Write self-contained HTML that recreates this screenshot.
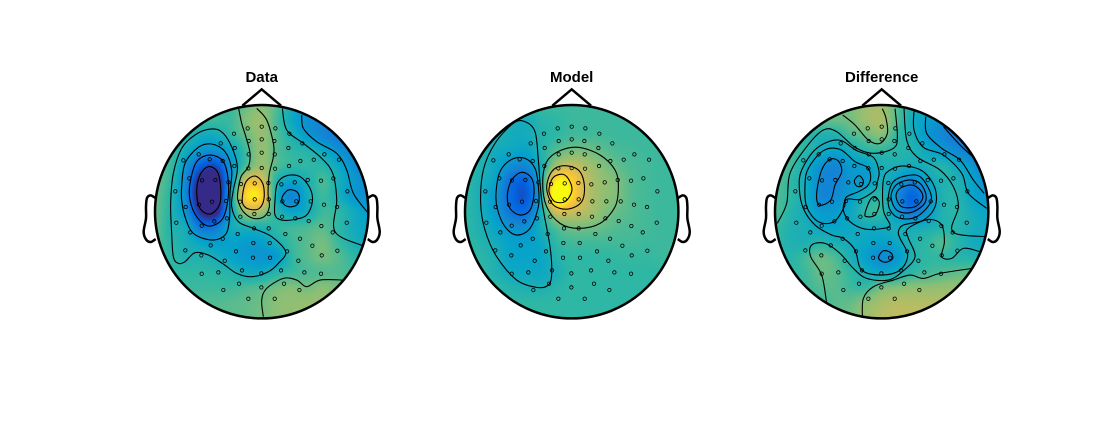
<!DOCTYPE html>
<html lang="en">
<head>
<meta charset="utf-8">
<title>Topoplots: Data, Model, Difference</title>
<style>
html,body{margin:0;padding:0;background:#fff;width:1104px;height:426px;overflow:hidden}
#chart{position:relative;width:1104px;height:426px}
canvas{position:absolute;display:block}
svg{position:absolute;left:0;top:0}
text{font-family:"Liberation Sans",Arial,sans-serif;font-weight:bold;font-size:15px;fill:#000}
</style>
</head>
<body>
<div id="chart"></div>
<script>
// Channel locations, head units: centre (365,455), radius 320
const electrodes=[[323,205],[365,200],[406,205],[448,221],[282,221],[326,243],[365,238],[403,243],[487,250],[242,250],[284,264],[445,264],[365,278],[326,283],[404,283],[553,283],[176,283],[130,301],[209,298],[248,303],[481,303],[521,299],[597,299],[283,318],[325,325],[365,324],[405,326],[447,318],[148,355],[186,361],[226,360],[503,360],[543,362],[580,355],[265,367],[303,372],[344,370],[385,369],[424,373],[464,367],[106,394],[622,394],[177,434],[216,425],[258,423],[300,425],[344,418],[386,418],[427,424],[469,424],[512,424],[552,434],[137,441],[591,441],[301,470],[261,475],[343,462],[386,462],[426,470],[466,475],[109,488],[223,484],[185,497],[506,483],[544,498],[620,488],[342,505],[386,505],[293,522],[151,517],[436,522],[578,517],[248,536],[480,536],[212,556],[340,549],[389,549],[517,557],[136,571],[288,574],[441,574],[592,572],[184,586],[339,593],[390,593],[545,586],[254,602],[475,602],[306,631],[423,631],[235,637],[185,641],[364,640],[493,637],[543,641],[297,671],[432,671],[250,690],[364,682],[478,690],[325,716],[404,716]];

const panelTitles=["Data","Model","Difference"];

// Field values on a 15x15 grid spanning the head square (0 = bottom of colour scale, 1 = top)
const dataField=[
[.50,.50,.50,.52,.52,.52,.58,.62,.55,.42,.33,.28,.25,.22,.20],
[.52,.52,.52,.52,.52,.52,.62,.66,.53,.40,.30,.27,.24,.22,.20],
[.54,.54,.48,.42,.42,.50,.58,.65,.55,.45,.34,.27,.22,.20,.20],
[.56,.54,.42,.33,.31,.38,.53,.65,.55,.50,.47,.40,.32,.25,.20],
[.56,.52,.33,.12,.07,.33,.55,.66,.55,.50,.50,.48,.40,.30,.22],
[.58,.50,.28,-.05,-.08,.33,.78,.78,.46,.38,.44,.54,.44,.34,.28],
[.58,.48,.28,-.12,-.12,.40,.92,.90,.42,.26,.42,.52,.44,.33,.30],
[.58,.47,.32,.00,-.04,.38,.68,.66,.48,.38,.42,.52,.50,.42,.35],
[.58,.47,.42,.20,.22,.42,.45,.46,.50,.52,.54,.56,.50,.42,.38],
[.55,.49,.44,.38,.35,.37,.35,.36,.44,.52,.56,.60,.52,.45,.40],
[.52,.50,.46,.46,.43,.38,.34,.32,.34,.50,.56,.60,.56,.50,.47],
[.50,.50,.50,.50,.49,.47,.42,.42,.48,.52,.54,.55,.55,.53,.50],
[.52,.52,.52,.52,.52,.52,.54,.56,.60,.62,.60,.63,.60,.58,.55],
[.55,.55,.55,.55,.55,.56,.57,.59,.63,.64,.65,.65,.62,.60,.58],
[.55,.55,.55,.56,.56,.56,.57,.60,.63,.65,.65,.65,.63,.60,.58]
];
const modelField=[
[.52,.52,.52,.52,.52,.52,.52,.52,.52,.52,.52,.52,.52,.52,.52],
[.50,.50,.50,.45,.43,.48,.50,.52,.52,.52,.52,.52,.52,.52,.52],
[.50,.50,.47,.42,.42,.47,.50,.53,.53,.53,.52,.52,.52,.52,.52],
[.50,.48,.42,.40,.38,.47,.56,.60,.60,.57,.54,.53,.52,.52,.52],
[.50,.46,.40,.30,.28,.43,.68,.74,.68,.62,.57,.54,.53,.52,.52],
[.50,.44,.37,.18,.14,.44,.98,.90,.72,.65,.61,.55,.53,.52,.52],
[.50,.43,.33,.16,.10,.42,1.15,.92,.72,.65,.61,.55,.53,.52,.52],
[.50,.44,.34,.20,.17,.43,.76,.74,.70,.63,.58,.55,.53,.52,.52],
[.50,.45,.38,.31,.30,.44,.56,.60,.60,.58,.55,.54,.53,.52,.52],
[.50,.47,.42,.37,.36,.40,.50,.53,.53,.53,.53,.53,.52,.52,.52],
[.50,.49,.45,.38,.38,.39,.47,.50,.50,.50,.51,.51,.51,.52,.52],
[.50,.50,.46,.41,.40,.40,.44,.50,.50,.50,.50,.50,.50,.50,.50],
[.50,.50,.50,.47,.45,.45,.48,.50,.50,.50,.50,.50,.50,.50,.50],
[.50,.50,.50,.50,.50,.50,.50,.50,.50,.50,.50,.50,.50,.50,.50],
[.50,.50,.50,.50,.50,.50,.50,.50,.50,.50,.50,.50,.50,.50,.50]
];
const differenceField=[
[.60,.60,.60,.60,.60,.60,.66,.66,.55,.46,.40,.33,.28,.25,.22],
[.58,.58,.58,.58,.58,.60,.66,.68,.55,.42,.36,.30,.26,.22,.20],
[.55,.55,.50,.46,.46,.54,.58,.62,.50,.44,.33,.27,.22,.20,.18],
[.55,.54,.49,.42,.38,.42,.49,.50,.48,.46,.40,.34,.28,.23,.20],
[.55,.53,.43,.31,.27,.35,.36,.44,.44,.42,.44,.47,.40,.32,.24],
[.56,.50,.42,.28,.27,.33,.35,.44,.36,.26,.38,.46,.45,.37,.30],
[.55,.50,.42,.27,.29,.36,.45,.48,.30,.13,.30,.46,.47,.38,.32],
[.55,.48,.42,.34,.35,.40,.50,.50,.33,.20,.33,.46,.48,.42,.38],
[.52,.46,.44,.39,.38,.40,.42,.42,.43,.42,.44,.47,.47,.43,.40],
[.50,.46,.45,.48,.44,.42,.39,.37,.40,.46,.50,.55,.48,.42,.40],
[.50,.48,.53,.58,.54,.44,.36,.28,.33,.46,.50,.50,.48,.47,.46],
[.50,.50,.52,.58,.56,.50,.43,.40,.43,.50,.53,.55,.57,.57,.55],
[.54,.54,.52,.55,.56,.52,.52,.60,.62,.64,.64,.65,.65,.62,.60],
[.55,.55,.52,.53,.56,.58,.64,.68,.70,.70,.70,.70,.68,.65,.62],
[.55,.55,.55,.55,.58,.60,.66,.70,.72,.72,.72,.72,.70,.68,.65]
];

// Isolines, head units
const dataClosedContours=[
[[115,610],[100,590],[95,520],[92,430],[100,340],[125,265],[165,225],[205,208],[240,212],[270,250],[292,320],[280,390],[275,440],[295,485],[340,505],[395,530],[437,575],[415,610],[385,635],[335,650],[290,640],[250,612],[205,585],[165,578],[135,605]],
[[125,380],[135,310],[175,262],[215,252],[255,275],[275,330],[270,400],[268,480],[255,525],[215,540],[160,520],[135,470],[125,420]],
[[150,370],[170,305],[210,285],[250,305],[265,365],[262,430],[245,480],[205,498],[170,470],[150,420]],
[[170,395],[180,345],[205,320],[232,335],[242,385],[238,435],[210,462],[180,445]],
[[307,410],[318,365],[345,348],[368,370],[372,415],[358,445],[330,448],[310,435]],
[[405,420],[412,370],[440,347],[480,350],[510,385],[517,425],[500,465],[465,478],[425,480],[405,465]],
[[427,410],[445,390],[470,395],[478,415],[470,435],[445,440],[428,428]]
];
const dataOpenContours=[
[[296,146],[305,190],[318,232],[330,280],[325,320],[303,350],[293,400],[295,425],[310,455],[340,475],[372,470],[388,440],[384,400],[388,340],[400,290],[400,250],[380,180],[350,145]],
[[427,146],[440,210],[490,250],[545,295],[578,340],[590,420],[585,515],[668,557]],
[[485,165],[490,205],[530,245],[590,280],[620,330],[640,400],[685,460]],
[[370,770],[365,720],[380,685],[430,655],[470,660],[500,680],[540,660],[610,660]]
];
const modelClosedContours=[
[[92,430],[100,330],[135,250],[190,190],[225,185],[255,215],[265,300],[275,420],[300,560],[305,640],[295,675],[260,682],[200,660],[140,590],[105,510]],
[[138,400],[150,335],[185,298],[225,295],[255,325],[265,380],[265,440],[240,505],[200,525],[165,500],[143,450]],
[[172,405],[185,360],[215,337],[245,355],[252,400],[240,450],[210,465],[180,445]],
[[278,370],[290,305],[330,272],[385,262],[450,285],[495,330],[505,380],[495,440],[450,490],[385,505],[330,490],[290,440]],
[[290,385],[305,335],[340,317],[385,330],[403,375],[395,425],[355,447],[310,435]],
[[297,385],[310,352],[340,343],[360,365],[365,395],[345,425],[315,425],[300,405]]
];
const modelOpenContours=[];
const differenceClosedContours=[
[[118,385],[125,330],[170,265],[235,240],[290,272],[340,292],[357,335],[352,365],[345,390],[300,418],[260,418],[250,450],[270,485],[315,507],[370,505],[390,495],[370,450],[370,360],[390,330],[435,318],[490,335],[525,385],[525,440],[490,480],[430,495],[415,515],[420,535],[443,585],[420,630],[365,645],[305,630],[285,570],[250,535],[215,525],[165,495],[130,445]],
[[135,375],[145,325],[190,272],[240,268],[285,305],[322,322],[332,352],[322,378],[295,395],[258,412],[253,440],[222,485],[175,485],[140,440]],
[[170,400],[185,330],[210,298],[235,303],[245,335],[225,375],[212,420],[178,435]],
[[283,362],[297,347],[310,362],[305,378],[290,378]],
[[315,460],[330,420],[345,410],[358,430],[345,465],[320,470]],
[[385,410],[400,365],[440,347],[480,350],[510,395],[510,430],[470,470],[420,475],[390,450]],
[[393,410],[408,375],[445,360],[480,370],[498,405],[490,435],[450,458],[410,450]],
[[408,410],[420,385],[455,375],[480,390],[488,415],[465,440],[425,440]],
[[356,590],[370,572],[392,578],[398,595],[380,606],[362,602]]
];
const differenceOpenContours=[
[[248,165],[285,195],[325,240],[360,250],[382,220],[378,175],[367,146]],
[[405,146],[412,230],[400,265],[340,280],[285,262],[230,215],[190,210],[140,260],[90,340],[80,430],[52,490]],
[[432,146],[440,240],[470,290],[540,330],[580,380],[595,440],[578,515],[675,530]],
[[462,150],[462,210],[490,262],[550,285],[605,340],[625,400],[680,445]],
[[497,170],[500,220],[545,265],[600,300],[640,360],[672,400]],
[[550,200],[600,255],[640,292]],
[[660,575],[610,565],[575,595],[545,590],[553,545],[545,495],[510,478],[470,490],[440,510],[445,535],[465,590],[430,632],[385,660],[320,655],[280,625],[240,580],[195,550],[155,555],[152,590],[185,645],[200,730]],
[[307,770],[310,715],[340,680],[400,660],[450,645],[490,655],[540,640],[637,625]]
];

const panelFields=[dataField,modelField,differenceField];
const panelClosed=[dataClosedContours,modelClosedContours,differenceClosedContours];
const panelOpen=[dataOpenContours,modelOpenContours,differenceOpenContours];

// Layout
const firstCx=261.7,panelStep=310,headCy=211.7,headR=106.7,unitCx=365,unitCy=455,unitR=320;
const NS="http://www.w3.org/2000/svg";
const parulaStops=[[53,42,135],[3,99,225],[20,129,214],[6,164,202],[46,183,164],[135,191,119],[209,187,89],[254,200,50],[249,251,14]];

function colourOf(v){
  const t=Math.max(0,Math.min(.9999,v))*(parulaStops.length-1);
  const i=Math.floor(t),f=t-i,a=parulaStops[i],b=parulaStops[i+1];
  return [a[0]+(b[0]-a[0])*f,a[1]+(b[1]-a[1])*f,a[2]+(b[2]-a[2])*f];
}
function cubic(p0,p1,p2,p3,t){
  return p1+.5*t*(p2-p0+t*(2*p0-5*p1+4*p2-p3+t*(3*(p1-p2)+p3-p0)));
}
function sampleField(g,gx,gy){
  const n=g.length-1;
  const ix=Math.max(0,Math.min(n-1,Math.floor(gx))),iy=Math.max(0,Math.min(n-1,Math.floor(gy)));
  const fx=gx-ix,fy=gy-iy,rows=[];
  for(let j=-1;j<=2;j++){
    const r=g[Math.max(0,Math.min(n,iy+j))];
    const c=k=>r[Math.max(0,Math.min(n,ix+k))];
    rows.push(cubic(c(-1),c(0),c(1),c(2),fx));
  }
  const v=cubic(rows[0],rows[1],rows[2],rows[3],fy);
  const lo=Math.min(g[iy][ix],g[iy][ix+1],g[iy+1][ix],g[iy+1][ix+1])-.1;
  const hi=Math.max(g[iy][ix],g[iy][ix+1],g[iy+1][ix],g[iy+1][ix+1])+.1;
  return Math.max(lo,Math.min(hi,v));
}
function blurPass(src,size,step,other,rad){
  const out=new Float32Array(src.length);
  for(let a=0;a<size;a++){
    for(let b=0;b<size;b++){
      let sum=0;
      for(let k=-rad;k<=rad;k++){
        const q=Math.max(0,Math.min(size-1,b+k));
        sum+=src[a*other+q*step];
      }
      out[a*other+b*step]=sum/(2*rad+1);
    }
  }
  return out;
}
function axisX(u,cx){return cx+(u-unitCx)/unitR*headR;}
function axisY(u){return headCy+(u-unitCy)/unitR*headR;}
function smoothPath(pts,cx,closed){
  const P=pts.map(p=>[axisX(p[0],cx),axisY(p[1])]),n=P.length;
  const at=i=>closed?P[(i+n)%n]:P[Math.max(0,Math.min(n-1,i))];
  let d="M"+P[0][0].toFixed(2)+" "+P[0][1].toFixed(2);
  const segs=closed?n:n-1;
  for(let i=0;i<segs;i++){
    const a=at(i-1),b=at(i),c=at(i+1),e=at(i+2);
    d+="C"+(b[0]+(c[0]-a[0])/6).toFixed(2)+" "+(b[1]+(c[1]-a[1])/6).toFixed(2)+" "+
           (c[0]-(e[0]-b[0])/6).toFixed(2)+" "+(c[1]-(e[1]-b[1])/6).toFixed(2)+" "+
           c[0].toFixed(2)+" "+c[1].toFixed(2);
  }
  return d+(closed?"Z":"");
}
function polyPath(pts,cx){
  return pts.map(function(q,i){return (i?"L":"M")+axisX(q[0],cx).toFixed(2)+" "+axisY(q[1]).toFixed(2);}).join("");
}
function svgEl(tag,parent){
  const el=document.createElementNS(NS,tag);
  parent.appendChild(el);
  return el;
}

const chart=document.getElementById("chart");
const svg=document.createElementNS(NS,"svg");
svg.setAttribute("width","1104");
svg.setAttribute("height","426");



panelTitles.forEach(function(title,p){
  const cx=firstCx+p*panelStep,field=panelFields[p];
  const slug=title.toLowerCase();

  // heatmap: sample grid, soften, then colour inside the head
  const size=Math.ceil(headR*2)+2,left=Math.floor(cx-headR)-1,top=Math.floor(headCy-headR)-1;
  const cv=document.createElement("canvas");
  cv.width=size;cv.height=size;
  cv.style.left=left+"px";cv.style.top=top+"px";
  
  
  const ctx=cv.getContext("2d"),img=ctx.createImageData(size,size);
  const n=field.length-1;
  let vals=new Float32Array(size*size);
  for(let y=0;y<size;y++){
    for(let x=0;x<size;x++){
      const dx=left+x+.5-cx,dy=top+y+.5-headCy;
      const gx=Math.max(0,Math.min(n,(dx/headR+1)/2*n)),gy=Math.max(0,Math.min(n,(dy/headR+1)/2*n));
      vals[y*size+x]=sampleField(field,gx,gy);
    }
  }
  for(let pass=0;pass<2;pass++){
    vals=blurPass(vals,size,1,size,2);
    vals=blurPass(vals,size,size,1,2);
  }
  for(let y=0;y<size;y++){
    for(let x=0;x<size;x++){
      const dx=left+x+.5-cx,dy=top+y+.5-headCy;
      if(dx*dx+dy*dy>headR*headR)continue;
      const c=colourOf(vals[y*size+x]),o=(y*size+x)*4;
      img.data[o]=c[0];img.data[o+1]=c[1];img.data[o+2]=c[2];img.data[o+3]=255;
    }
  }
  ctx.putImageData(img,0,0);
  chart.appendChild(cv);

  const g=svgEl("g",svg);
  
  

  // contours
  panelClosed[p].forEach(function(pts){
    const c=svgEl("path",g);
    
    
    c.setAttribute("d",smoothPath(pts,cx,true));
    c.setAttribute("fill","none");c.setAttribute("stroke","#000");c.setAttribute("stroke-width","1.1");
  });
  panelOpen[p].forEach(function(pts){
    const c=svgEl("path",g);
    
    
    c.setAttribute("d",smoothPath(pts,cx,false));
    c.setAttribute("fill","none");c.setAttribute("stroke","#000");c.setAttribute("stroke-width","1.1");
  });

  // electrodes
  electrodes.forEach(function(e){
    const m=svgEl("circle",g);
    
    
    m.setAttribute("cx",axisX(e[0],cx).toFixed(2));
    m.setAttribute("cy",axisY(e[1]).toFixed(2));
    m.setAttribute("r","1.7");
    m.setAttribute("fill","none");m.setAttribute("stroke","#000");m.setAttribute("stroke-width","0.8");
  });

  // head outline
  const head=svgEl("circle",g);
  
  
  head.setAttribute("cx",cx);head.setAttribute("cy",headCy);head.setAttribute("r",headR);
  head.setAttribute("fill","none");head.setAttribute("stroke","#000");head.setAttribute("stroke-width","2.5");

  const nose=svgEl("path",g);
  
  
  nose.setAttribute("d",polyPath([[307,137],[365,88],[423,137]],cx));
  nose.setAttribute("fill","none");nose.setAttribute("stroke","#000");nose.setAttribute("stroke-width","2.5");

  const earL=svgEl("path",g);
  
  
  earL.setAttribute("d",smoothPath([[46,414],[32,406],[21,414],[18,440],[18,475],[11,515],[18,538],[32,546],[47,537]],cx,false));
  earL.setAttribute("fill","none");earL.setAttribute("stroke","#000");earL.setAttribute("stroke-width","2.5");

  const earR=svgEl("path",g);
  
  
  earR.setAttribute("d",smoothPath([[684,414],[698,406],[709,414],[712,440],[712,475],[719,515],[712,538],[698,546],[683,537]],cx,false));
  earR.setAttribute("fill","none");earR.setAttribute("stroke","#000");earR.setAttribute("stroke-width","2.5");

  const t=svgEl("text",g);
  
  
  t.setAttribute("x",cx);t.setAttribute("y","82");t.setAttribute("text-anchor","middle");
  t.textContent=title;
});
chart.appendChild(svg);
</script>
</body>
</html>
